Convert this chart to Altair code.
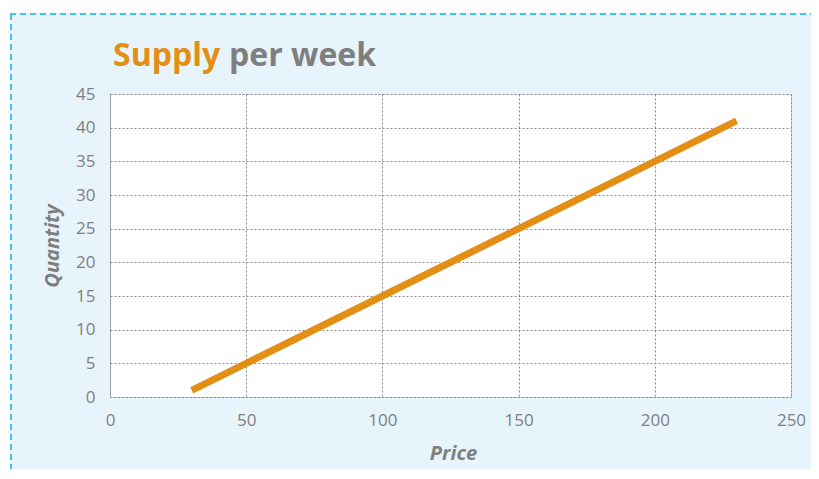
import altair as alt
import pandas as pd

price = [30, 50, 100, 150, 200, 230]
quantity = [1, 5, 15, 25, 35, 41]
title_parts = ["Supply", "per week"]

W, H = 681, 303
GRAY = "#7f7f7f"
ORANGE = "#e38f16"
FONT = "Open Sans"

df = pd.DataFrame({"Price": price, "Quantity": quantity})
one = pd.DataFrame({"k": [0]})

x_enc = alt.X("Price:Q", scale=alt.Scale(domain=[0, 250], nice=False),
              axis=alt.Axis(values=[0, 50, 100, 150, 200, 250], title="Price",
                            titleX=343, titleY=56, titleAlign="center",
                            titleBaseline="middle", labelPadding=15,
                            labelFlush=False))
y_enc = alt.Y("Quantity:Q", scale=alt.Scale(domain=[0, 45], nice=False),
              axis=alt.Axis(values=list(range(0, 50, 5)), title="Quantity",
                            titleX=-58, titleY=H / 2, titleAngle=270,
                            titleAlign="center", titleBaseline="middle",
                            labelPadding=15, labelFlush=False))

line = alt.Chart(df).mark_line(color=ORANGE, strokeWidth=7, strokeCap="butt").encode(
    x=x_enc, y=y_enc)

# decorative frame: white margin strips and dashed border
strip_top = alt.Chart(one).mark_rect(color="white").encode(
    x=alt.value(-102), x2=alt.value(720), y=alt.value(-86), y2=alt.value(-81))
strip_left = alt.Chart(one).mark_rect(color="white").encode(
    x=alt.value(-102), x2=alt.value(-100), y=alt.value(-86), y2=alt.value(400))
border_top = alt.Chart(one).mark_rule(color="#3ec3f2", strokeWidth=2, strokeDash=[6, 4]).encode(
    x=alt.value(-100), x2=alt.value(720), y=alt.value(-80))
border_left = alt.Chart(one).mark_rule(color="#3ec3f2", strokeWidth=2, strokeDash=[6, 4]).encode(
    x=alt.value(-99), y=alt.value(-80), y2=alt.value(400))

t1 = alt.Chart(pd.DataFrame({"t": [title_parts[0]]})).mark_text(
    font=FONT, fontSize=32, fontWeight="bold", color=ORANGE, align="left",
    baseline="alphabetic").encode(x=alt.value(3), y=alt.value(-28), text="t:N")
t2 = alt.Chart(pd.DataFrame({"t": [title_parts[1]]})).mark_text(
    font=FONT, fontSize=32, fontWeight="bold", color=GRAY, align="left",
    baseline="alphabetic").encode(x=alt.value(119), y=alt.value(-28), text="t:N")

chart = alt.layer(strip_top, strip_left, border_top, border_left, t1, t2, line).properties(
    width=W, height=H,
    background="#e8f4fb",
    padding={"left": 102, "top": 86, "right": 20, "bottom": 72},
    autosize=alt.AutoSizeParams(type="none"),
).configure_view(
    fill="white", stroke="#999999", strokeDash=[2, 2], strokeWidth=1
).configure_axis(
    domain=False, ticks=False, grid=True, gridColor="#8c8c8c", gridDash=[2, 2],
    gridWidth=1, labelFont=FONT, labelFontSize=17, labelColor=GRAY,
    titleFont=FONT, titleFontSize=20, titleFontWeight="bold", titleFontStyle="italic",
    titleColor=GRAY
)

chart.save("out.html", embed_options={"renderer": "svg", "actions": False})
